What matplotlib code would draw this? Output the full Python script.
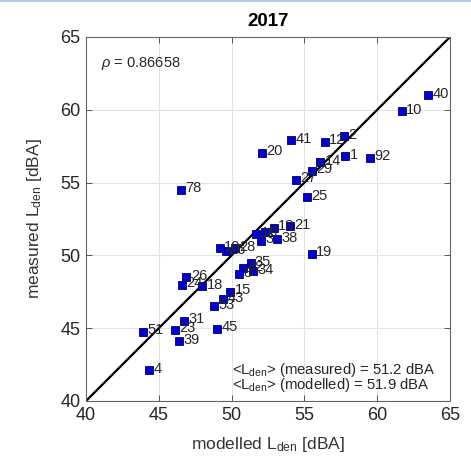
import matplotlib
matplotlib.use('Agg')
import matplotlib.pyplot as plt

plt.rcParams['font.family'] = ['Liberation Sans', 'DejaVu Sans']
plt.rcParams['mathtext.fontset'] = 'custom'
plt.rcParams['mathtext.rm'] = 'Liberation Sans'
plt.rcParams['mathtext.it'] = 'Liberation Sans:italic'

# modelled vs measured Lden per site (dBA)
site_labels = ['40', '10', '2', '12', '41', '20', '1', '92', '14', '29', '27', '25', '78',
               '21', '19', '38', '3', '13', '4', '11', '16', '28', '10', '35', '34', '42', '8',
               '26', '24', '18', '15', '43', '53', '31', '23', '51', '45', '39', '4']
modelled = [63.5, 61.7, 57.7, 56.4, 54.1, 52.1, 57.8, 59.5, 56.1, 55.5, 54.4, 55.2, 46.5,
            54.0, 55.5, 53.1, 52.0, 52.9, 52.3, 51.7, 49.6, 50.2, 49.2, 51.3, 51.5, 50.8, 50.5,
            46.9, 46.6, 48.0, 49.9, 49.4, 48.8, 46.75, 46.1, 43.9, 49.0, 46.4, 44.35]
measured = [61.0, 59.9, 58.2, 57.8, 57.9, 57.05, 56.8, 56.7, 56.4, 55.8, 55.2, 54.0, 54.5,
            52.0, 50.1, 51.1, 51.0, 51.9, 51.6, 51.45, 50.3, 50.5, 50.5, 49.45, 48.9, 49.1, 48.7,
            48.5, 48.0, 47.9, 47.5, 47.0, 46.5, 45.5, 44.9, 44.75, 44.95, 44.1, 42.1]

rho = 0.86658
mean_measured = 51.2
mean_modelled = 51.9

fig = plt.figure(figsize=(4.71, 4.59), dpi=100)
ax = fig.add_axes([0.1826, 0.1264, 0.7728, 0.793])

ax.plot([40, 65], [40, 65], color='black', linewidth=1.6, zorder=2)
ax.plot(modelled, measured, 's', markersize=5.5, markerfacecolor='#0000d0',
        markeredgecolor='#000060', markeredgewidth=0.6, linestyle='none', zorder=3)
for lab, xv, yv in zip(site_labels, modelled, measured):
    ax.text(xv + 0.3, yv + 0.1, lab, fontsize=10.5, color='#262626',
            va='center', ha='left', zorder=4)

ax.set_xlim(40, 65)
ax.set_ylim(40, 65)
ax.set_xticks(range(40, 66, 5))
ax.set_yticks(range(40, 66, 5))
ax.grid(True, color='#e3e3e3', linewidth=0.8)
ax.set_axisbelow(True)
ax.tick_params(direction='in', top=True, right=True, length=4, width=0.7,
               labelsize=13, colors='#555555', labelcolor='#262626', pad=4)
for sp in ax.spines.values():
    sp.set_color('#666666')
    sp.set_linewidth(0.8)

ax.set_title('2017', fontsize=13.5, fontweight='bold', pad=8)
ax.set_xlabel(r'modelled L$_{\rm den}$ [dBA]', fontsize=12.5, color='#333333', labelpad=8)
ax.set_ylabel(r'measured L$_{\rm den}$ [dBA]', fontsize=12.5, color='#333333', labelpad=12)

ax.text(41.0, 63.2, r'$\it{\rho}$ = %.5f' % rho, fontsize=10.5, color='#262626', va='center')
ax.text(50.0, 42.1, r'<L$_{\rm den}$> (measured) = %.1f dBA' % mean_measured,
        fontsize=10.7, color='#262626', va='center')
ax.text(50.0, 41.1, r'<L$_{\rm den}$> (modelled) = %.1f dBA' % mean_modelled,
        fontsize=10.7, color='#262626', va='center')

# thin rule along the top edge of the canvas
fig.add_artist(plt.Line2D([0, 1], [0.998, 0.998], color='#b8cce8', linewidth=1.5,
                          transform=fig.transFigure))

fig.savefig('out.png', dpi=100)
